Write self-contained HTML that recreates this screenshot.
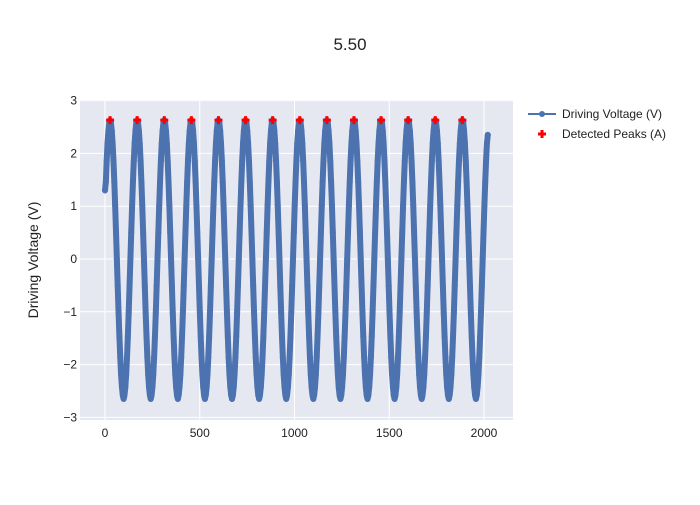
<!DOCTYPE html>
<html><head><meta charset="utf-8"><style>
body{margin:0;background:#fff;font-family:"Liberation Sans",sans-serif}
svg text{font-family:"Liberation Sans",sans-serif}
</style></head><body>
<svg id="chart" width="700" height="500" xmlns="http://www.w3.org/2000/svg">
<rect width="700" height="500" fill="#fff"/>
<text x="350" y="50" font-size="17" text-anchor="middle" fill="#222">5.50</text>
<rect x="80" y="100" width="433" height="320" fill="#e5e8f1"/>
<g id="grid"></g><g id="series"></g><g id="axes"></g>
<text transform="translate(38,260) rotate(-90)" font-size="14" text-anchor="middle" fill="#222">Driving Voltage (V)</text>
<g>
<g>
<line x1="528" y1="114" x2="556" y2="114" stroke="#4c72b0" stroke-width="2"/>
<circle cx="542" cy="114" r="3" fill="#4c72b0"/>
<text x="562" y="118" font-size="12" fill="#222">Driving Voltage (V)</text></g>
<g>
<path d="M538,134h8M542,130v8" stroke="#ff0000" stroke-width="3"/>
<text x="562" y="138" font-size="12" fill="#222">Detected Peaks (A)</text></g>
</g>
</svg>
<script>
const xTicks=[0,500,1000,1500,2000];
const yTicks=[3,2,1,0,-1,-2,-3];
const yTickLabels=["3","2","1","0","−1","−2","−3"];
const sampleInterval=4.46875;
const voltage=[
1.3,1.46,1.86,2.19,2.43,2.58,2.63,2.58,2.43,2.19,1.86,1.46,1.01,0.51,0,-0.51,-1.01,-1.46,-1.86,-2.19,-2.43,-2.58,-2.65,-2.58,-2.43,-2.19,-1.86,-1.46,-1.01,-0.51,0,0.51,
1.01,1.46,1.86,2.19,2.43,2.58,2.63,2.58,2.43,2.19,1.86,1.46,1.01,0.51,0,-0.51,-1.01,-1.46,-1.86,-2.19,-2.43,-2.58,-2.65,-2.58,-2.43,-2.19,-1.86,-1.46,-1.01,-0.51,0,0.51,
1.01,1.46,1.86,2.19,2.43,2.58,2.63,2.58,2.43,2.19,1.86,1.46,1.01,0.51,0,-0.51,-1.01,-1.46,-1.86,-2.19,-2.43,-2.58,-2.65,-2.58,-2.43,-2.19,-1.86,-1.46,-1.01,-0.51,0,0.51,
1.01,1.46,1.86,2.19,2.43,2.58,2.63,2.58,2.43,2.19,1.86,1.46,1.01,0.51,0,-0.51,-1.01,-1.46,-1.86,-2.19,-2.43,-2.58,-2.65,-2.58,-2.43,-2.19,-1.86,-1.46,-1.01,-0.51,0,0.51,
1.01,1.46,1.86,2.19,2.43,2.58,2.63,2.58,2.43,2.19,1.86,1.46,1.01,0.51,0,-0.51,-1.01,-1.46,-1.86,-2.19,-2.43,-2.58,-2.65,-2.58,-2.43,-2.19,-1.86,-1.46,-1.01,-0.51,0,0.51,
1.01,1.46,1.86,2.19,2.43,2.58,2.63,2.58,2.43,2.19,1.86,1.46,1.01,0.51,0,-0.51,-1.01,-1.46,-1.86,-2.19,-2.43,-2.58,-2.65,-2.58,-2.43,-2.19,-1.86,-1.46,-1.01,-0.51,0,0.51,
1.01,1.46,1.86,2.19,2.43,2.58,2.63,2.58,2.43,2.19,1.86,1.46,1.01,0.51,0,-0.51,-1.01,-1.46,-1.86,-2.19,-2.43,-2.58,-2.65,-2.58,-2.43,-2.19,-1.86,-1.46,-1.01,-0.51,0,0.51,
1.01,1.46,1.86,2.19,2.43,2.58,2.63,2.58,2.43,2.19,1.86,1.46,1.01,0.51,0,-0.51,-1.01,-1.46,-1.86,-2.19,-2.43,-2.58,-2.65,-2.58,-2.43,-2.19,-1.86,-1.46,-1.01,-0.51,0,0.51,
1.01,1.46,1.86,2.19,2.43,2.58,2.63,2.58,2.43,2.19,1.86,1.46,1.01,0.51,0,-0.51,-1.01,-1.46,-1.86,-2.19,-2.43,-2.58,-2.65,-2.58,-2.43,-2.19,-1.86,-1.46,-1.01,-0.51,0,0.51,
1.01,1.46,1.86,2.19,2.43,2.58,2.63,2.58,2.43,2.19,1.86,1.46,1.01,0.51,0,-0.51,-1.01,-1.46,-1.86,-2.19,-2.43,-2.58,-2.65,-2.58,-2.43,-2.19,-1.86,-1.46,-1.01,-0.51,0,0.51,
1.01,1.46,1.86,2.19,2.43,2.58,2.63,2.58,2.43,2.19,1.86,1.46,1.01,0.51,0,-0.51,-1.01,-1.46,-1.86,-2.19,-2.43,-2.58,-2.65,-2.58,-2.43,-2.19,-1.86,-1.46,-1.01,-0.51,0,0.51,
1.01,1.46,1.86,2.19,2.43,2.58,2.63,2.58,2.43,2.19,1.86,1.46,1.01,0.51,0,-0.51,-1.01,-1.46,-1.86,-2.19,-2.43,-2.58,-2.65,-2.58,-2.43,-2.19,-1.86,-1.46,-1.01,-0.51,0,0.51,
1.01,1.46,1.86,2.19,2.43,2.58,2.63,2.58,2.43,2.19,1.86,1.46,1.01,0.51,0,-0.51,-1.01,-1.46,-1.86,-2.19,-2.43,-2.58,-2.65,-2.58,-2.43,-2.19,-1.86,-1.46,-1.01,-0.51,0,0.51,
1.01,1.46,1.86,2.19,2.43,2.58,2.63,2.58,2.43,2.19,1.86,1.46,1.01,0.51,0,-0.51,-1.01,-1.46,-1.86,-2.19,-2.43,-2.58,-2.65,-2.58,-2.43,-2.19,-1.86,-1.46,-1.01,-0.51,0,0.51,
1.01,1.46,1.86,2.19,2.35];
const peakX=[26.8,169.8,312.8,455.8,598.8,741.8,884.8,1027.8,1170.8,1313.8,1456.8,1599.8,1742.8,1885.8];
const peakY=[2.63,2.63,2.63,2.63,2.63,2.63,2.63,2.63,2.63,2.63,2.63,2.63,2.63,2.63];

const NS="http://www.w3.org/2000/svg";
function xs(v){return 105+v*(484-105)/2000;}
function ys(v){return 259-v*52.8;}
function mk(t,a,p){const e=document.createElementNS(NS,t);for(const k in a)e.setAttribute(k,a[k]);p.appendChild(e);return e;}
const grid=document.getElementById('grid'),axes=document.getElementById('axes'),ser=document.getElementById('series');
xTicks.forEach(t=>{
  const l=mk('line',{x1:xs(t),x2:xs(t),y1:100,y2:420,stroke:'#fff','stroke-width':1},grid);
  
  
  const tx=mk('text',{x:xs(t),y:437,'font-size':12,'text-anchor':'middle',fill:'#222'},axes);
  tx.textContent=t;
  
  
});
yTicks.forEach((t,i)=>{
  const l=mk('line',{x1:80,x2:513,y1:ys(t),y2:ys(t),stroke:'#fff','stroke-width':1},grid);
  
  
  const tx=mk('text',{x:77,y:ys(t)+4,'font-size':12,'text-anchor':'end',fill:'#222'},axes);
  tx.textContent=yTickLabels[i];
  
  
});
let d='';
voltage.forEach((v,i)=>{d+=(i?'L':'M')+xs(i*sampleInterval).toFixed(2)+','+ys(v).toFixed(2);});
const line=mk('path',{d:d,fill:'none',stroke:'#4c72b0','stroke-width':6,'stroke-linejoin':'round','stroke-linecap':'round'},ser);


voltage.forEach((v,i)=>{
  const c=mk('circle',{cx:xs(i*sampleInterval),cy:ys(v),r:3,fill:'#4c72b0'},ser);
  
  
});
peakX.forEach((x,i)=>{
  const px=xs(x),py=ys(peakY[i]);
  const p=mk('path',{d:`M${px-4},${py}h8M${px},${py-4}v8`,stroke:'#ff0000','stroke-width':3},ser);
  
  
});
</script>
</body></html>
